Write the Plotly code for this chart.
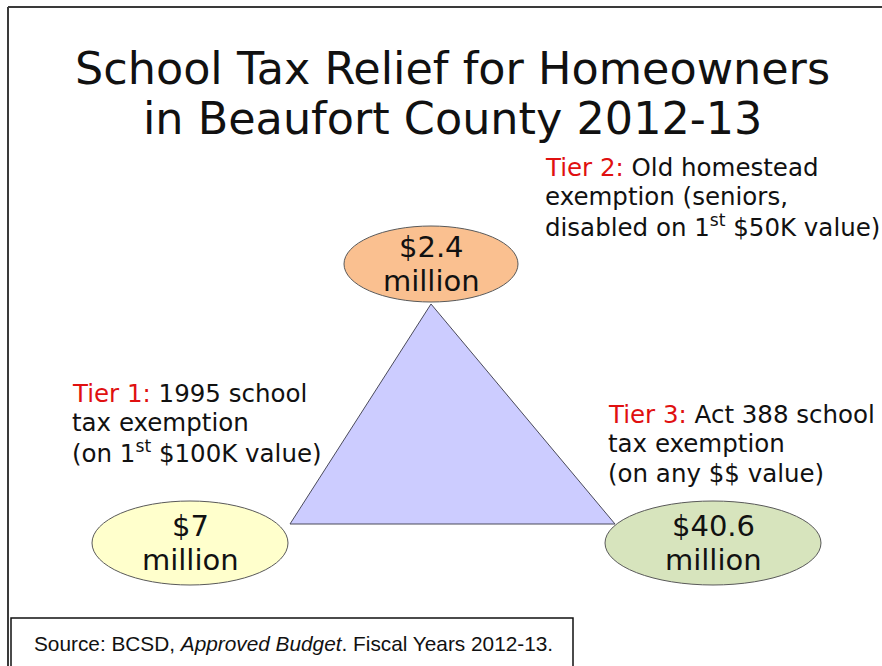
import plotly.graph_objects as go

W, H = 882, 666

title_lines = ["School Tax Relief for Homeowners", "in Beaufort County 2012-13"]
tiers = ["Tier 1:", "Tier 2:", "Tier 3:"]
amounts = ["$7", "$2.4", "$40.6"]
unit = "million"
desc_lines = [
    [" 1995 school", "tax exemption", "(on 1<sup>st</sup> $100K value)"],
    [" Old homestead", "exemption (seniors,", "disabled on 1<sup>st</sup> $50K value)"],
    [" Act 388 school", "tax exemption", "(on any $$ value)"],
]
ellipse_colors = ["#ffffcc", "#fac090", "#d7e4bd"]
source_text = "Source: BCSD, <i>Approved Budget</i>. Fiscal Years 2012-13."

# layout positions (pixel space, y down)
ell_centers = [(190, 543), (431, 264), (713, 543)]
ell_radii = [(98, 42), (87, 38), (108, 42)]
desc_pos = [(70, 393), (543, 167), (606, 414)]
line_gap = 29.5

FONT = "DejaVu Sans"
RED = "#e01010"
TXT = "#111111"

fig = go.Figure()

shapes = []
# slide frame
shapes.append(dict(type="line", x0=8, x1=8, y0=7, y1=H, line=dict(color="#3a3a3a", width=2)))
shapes.append(dict(type="line", x0=8, x1=W, y0=7, y1=7, line=dict(color="#3a3a3a", width=2)))

# triangle
shapes.append(dict(
    type="path",
    path="M 431 304 L 615 524 L 290 524 Z",
    fillcolor="#ccccff",
    line=dict(color="#4a4a5a", width=1),
    layer="below",
))

for (cx, cy), (rx, ry), col in zip(ell_centers, ell_radii, ellipse_colors):
    shapes.append(dict(
        type="circle", x0=cx - rx, x1=cx + rx, y0=cy - ry, y1=cy + ry,
        fillcolor=col, line=dict(color="#595959", width=1),
    ))

# source box
shapes.append(dict(type="rect", x0=11, x1=573, y0=618, y1=H + 5,
                   fillcolor="white", line=dict(color="#111111", width=1.5)))

annotations = []
for i, line in enumerate(title_lines):
    annotations.append(dict(
        x=452, y=68 + i * 50, text=line, showarrow=False,
        xanchor="center", yanchor="middle",
        font=dict(family=FONT, size=44.5, color=TXT),
    ))

for (cx, cy), amt in zip(ell_centers, amounts):
    annotations.append(dict(x=cx, y=cy - 17, text=amt, showarrow=False,
                            xanchor="center", yanchor="middle",
                            font=dict(family=FONT, size=29, color=TXT)))
    annotations.append(dict(x=cx, y=cy + 17, text=unit, showarrow=False,
                            xanchor="center", yanchor="middle",
                            font=dict(family=FONT, size=29, color=TXT)))

for (x, y), tier, lines in zip(desc_pos, tiers, desc_lines):
    for j, line in enumerate(lines):
        text = line
        if j == 0:
            text = f"<span style='color:{RED}'>{tier}</span>{line}"
        annotations.append(dict(
            x=x, y=y + j * line_gap, text=text, showarrow=False,
            xanchor="left", yanchor="middle",
            font=dict(family=FONT, size=24.5, color=TXT),
        ))

annotations.append(dict(
    x=32, y=643, text=source_text, showarrow=False,
    xanchor="left", yanchor="middle",
    font=dict(family="Liberation Sans", size=20.8, color=TXT),
))

fig.update_layout(
    width=W, height=H,
    margin=dict(l=0, r=0, t=0, b=0),
    paper_bgcolor="white", plot_bgcolor="white",
    xaxis=dict(range=[0, W], visible=False, fixedrange=True),
    yaxis=dict(range=[H, 0], visible=False, fixedrange=True),
    shapes=shapes,
    annotations=annotations,
    showlegend=False,
)

# page default body margin would shift the slide by 8px
fig.write_html("out.html", config={"displayModeBar": False},
               post_script="document.body.style.margin='0';")
